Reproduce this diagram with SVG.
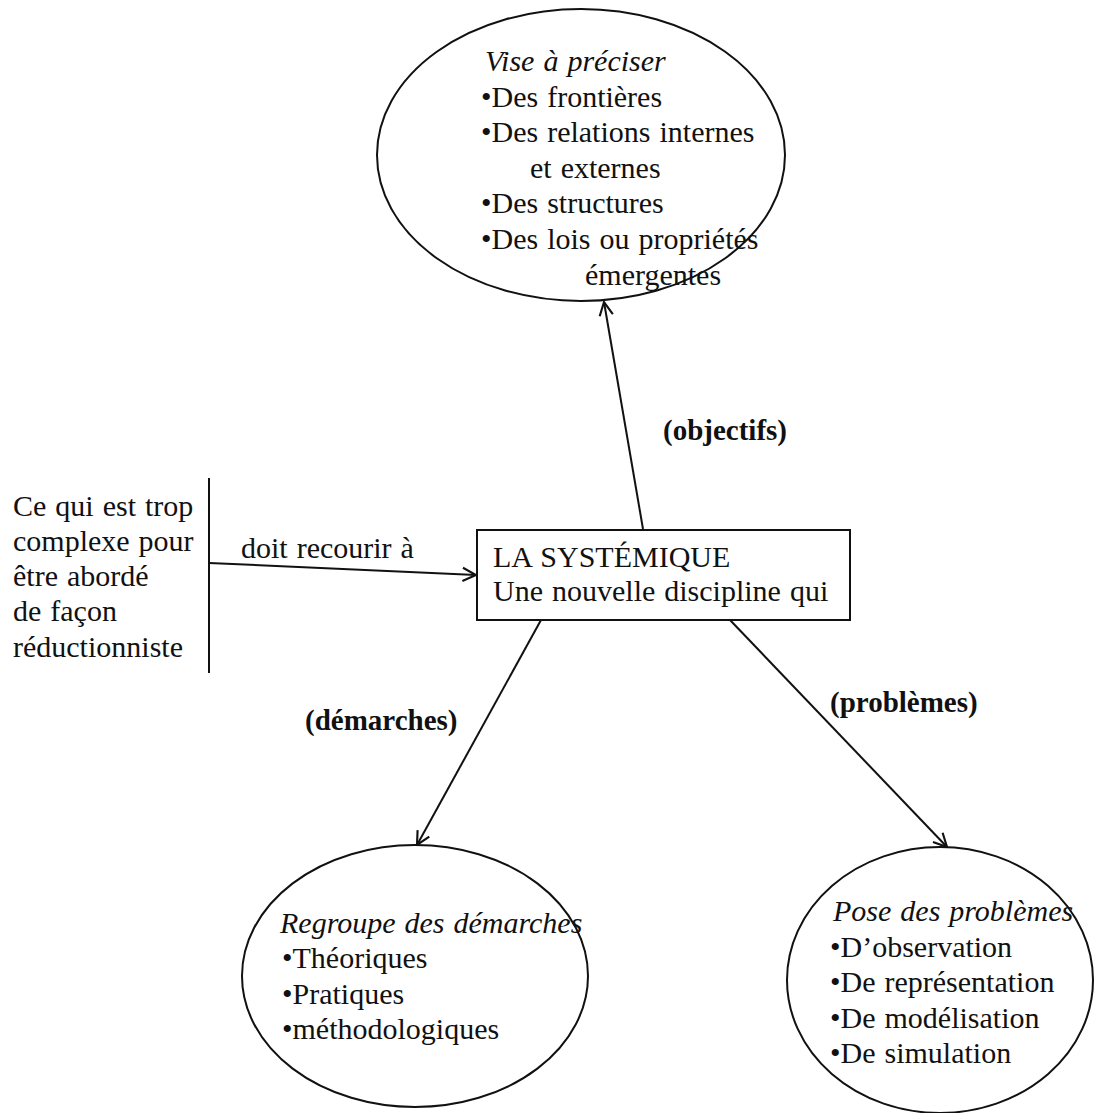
<svg xmlns="http://www.w3.org/2000/svg" width="1094" height="1113" viewBox="0 0 1094 1113">
<style>
text{font-family:"Liberation Serif","Times New Roman",serif;font-size:30px;word-spacing:1.5px;fill:#111}
.it{font-style:italic}
.b{font-weight:bold;font-size:29px;word-spacing:0}
.shape{fill:none;stroke:#111;stroke-width:2}
.conn{fill:none;stroke:#111;stroke-width:2}
</style>
<defs>
<marker id="arr" viewBox="0 0 12 12" refX="11" refY="6" markerWidth="16" markerHeight="16" markerUnits="userSpaceOnUse" orient="auto">
<path d="M1,1 L11,6 L1,11" fill="none" stroke="#111" stroke-width="1.6"/>
</marker>
</defs>
<rect width="1094" height="1113" fill="#fff"/>
<g id="connectors">
<line class="conn" x1="209" y1="478" x2="209" y2="673"/>
<line class="conn" x1="209" y1="563" x2="476" y2="575" marker-end="url(#arr)"/>
<line class="conn" x1="643" y1="529" x2="604" y2="302" marker-end="url(#arr)"/>
<line class="conn" x1="541" y1="620" x2="417" y2="845" marker-end="url(#arr)"/>
<line class="conn" x1="730" y1="620" x2="947" y2="847" marker-end="url(#arr)"/>
<text class="b" x="663" y="440">(objectifs)</text>
<text x="241" y="558">doit recourir à</text>
<text class="b" x="305" y="730">(démarches)</text>
<text class="b" x="830" y="712">(problèmes)</text>
</g>
<g id="left-text">
<text x="13" y="516">Ce qui est trop</text>
<text x="13" y="551">complexe pour</text>
<text x="13" y="586">être abordé</text>
<text x="13" y="621">de façon</text>
<text x="13" y="657">réductionniste</text>
</g>
<g id="systemique">
<rect class="shape" x="477" y="530" width="373" height="90"/>
<text x="493" y="567">LA SYSTÉMIQUE</text>
<text x="493" y="601">Une nouvelle discipline qui</text>
</g>
<g id="objectifs-node">
<ellipse class="shape" cx="581" cy="155" rx="204" ry="146"/>
<text class="it" x="485" y="71">Vise à préciser</text>
<text x="481" y="107">•Des frontières</text>
<text x="481" y="142">•Des relations internes</text>
<text x="530" y="178">et externes</text>
<text x="481" y="213">•Des structures</text>
<text x="481" y="249">•Des lois ou propriétés</text>
<text x="585" y="285">émergentes</text>
</g>
<g id="demarches-node">
<ellipse class="shape" cx="415" cy="976" rx="173" ry="131"/>
<text class="it" x="280" y="933">Regroupe des démarches</text>
<text x="282" y="968">•Théoriques</text>
<text x="282" y="1004">•Pratiques</text>
<text x="282" y="1039">•méthodologiques</text>
</g>
<g id="problemes-node">
<ellipse class="shape" cx="940" cy="980" rx="153" ry="133"/>
<text class="it" x="833" y="921">Pose des problèmes</text>
<text x="830" y="957">•D’observation</text>
<text x="830" y="992">•De représentation</text>
<text x="830" y="1028">•De modélisation</text>
<text x="830" y="1063">•De simulation</text>
</g>
</svg>
